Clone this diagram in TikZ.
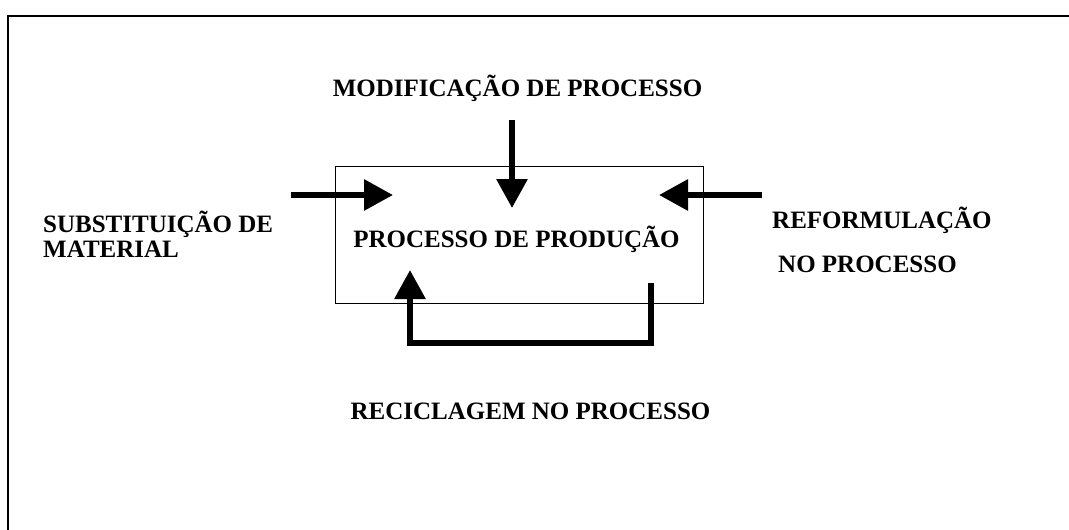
\documentclass[tikz,border=0pt]{standalone}
\usepackage{fontspec}
\setmainfont{Liberation Serif}
\usetikzlibrary{arrows.meta}
\tikzset{
  lbl/.style={inner sep=0pt, font=\fontsize{25}{25}\selectfont\bfseries},
  bigarrow/.style={line width=6pt, -{Triangle[width=30pt,length=29pt]}},
  frame/.style={line width=2pt},
  boxstyle/.style={draw, line width=1pt, inner sep=0pt}
}
\begin{document}
\begin{tikzpicture}[x=1pt,y=-1pt]
\useasboundingbox (0,0) rectangle (1069,530);
% outer frame (top and left edges)
\coordinate (fr) at (1069,15.5);
\coordinate (fc) at (7.5,15.5);
\coordinate (fb) at (7.5,530);
\draw[frame] (fr) -- (fc) -- (fb);
% process box
\node[boxstyle, minimum width=368pt, minimum height=137pt] (box) at (519,234.5) {};
\node[lbl, anchor=base] (prod) at (516.5,247) {PROCESSO DE PRODUÇÃO};
% labels
\node[lbl, anchor=base] (mod) at (517.5,96) {MODIFICAÇÃO DE PROCESSO};
\node[lbl, anchor=base west] (sub1) at (43,232) {SUBSTITUIÇÃO DE};
\node[lbl, anchor=base west] (sub2) at (43,257) {MATERIAL};
\node[lbl, anchor=base west] (ref1) at (772,228) {REFORMULAÇÃO};
\node[lbl, anchor=base west] (ref2) at (778,272) {NO PROCESSO};
\node[lbl, anchor=base] (rec) at (530.5,419) {RECICLAGEM NO PROCESSO};
% arrow endpoints
\coordinate (topS) at (512,120);
\coordinate (topT) at (512,208);
\coordinate (leftS) at (291,195);
\coordinate (leftT) at (393,195);
\coordinate (rightS) at (762,195);
\coordinate (rightT) at (659,195);
\coordinate (loopA) at (651,283);
\coordinate (loopB) at (651,343);
\coordinate (loopC) at (410,343);
\coordinate (loopD) at (410,270);
% arrows
\draw[bigarrow] (topS) -- (topT);
\draw[bigarrow] (leftS) -- (leftT);
\draw[bigarrow] (rightS) -- (rightT);
\draw[bigarrow, line join=miter] (loopA) -- (loopB) -- (loopC) -- (loopD);
\end{tikzpicture}
\end{document}
